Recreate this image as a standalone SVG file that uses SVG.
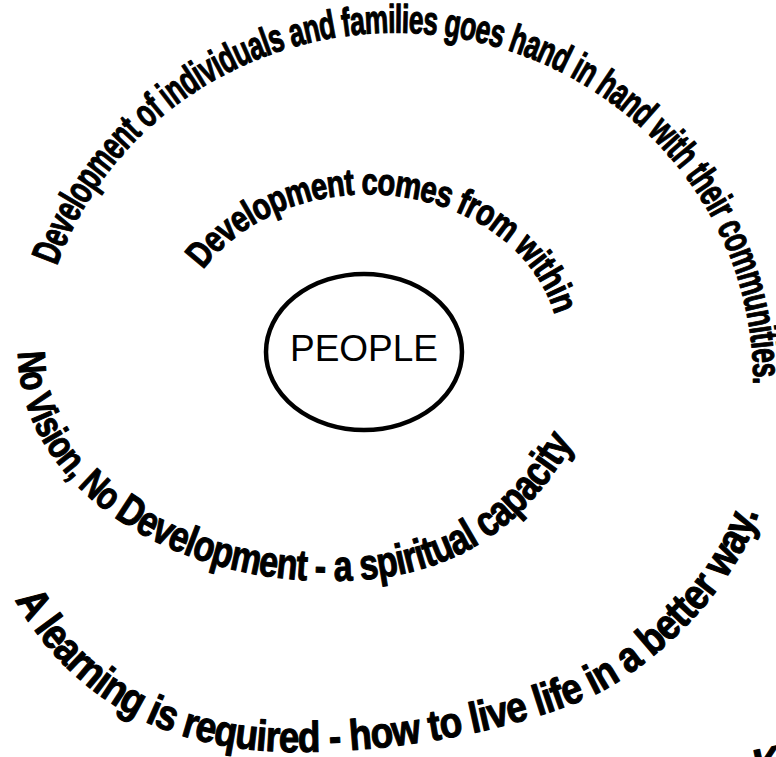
<svg xmlns="http://www.w3.org/2000/svg" width="776" height="757" viewBox="0 0 776 757">
<style>
.arc{font-family:"Liberation Sans",Arial,sans-serif;font-weight:bold;fill:#000;stroke:#000;stroke-width:1.1px;stroke-linejoin:round;letter-spacing:-1px}
.guide{fill:none;stroke:none}
</style>
<defs>
<path id="p1" class="guide" d="M 203,270 A 192 156 0 0 1 558,330"/>
<path id="p2" class="guide" d="M 57,266 A 358 347 0 0 1 753,392"/>
<path id="p3" class="guide" d="M 18,352 C 18,477.6 157.7,581 330,581 C 460,581 529,522 578,435"/>
<path id="p4" class="guide" d="M 15,600 C 65,687 150,752 300,752 C 390,752 507.6,733 590,697 C 645,673 743,588 762,500"/>
</defs>
<rect width="776" height="757" fill="#fff"/>
<g id="people">
<ellipse cx="364" cy="352" rx="98" ry="78" fill="#fff" stroke="#000" stroke-width="4.5"/>
<text x="364" y="361" text-anchor="middle" font-family="Liberation Sans, Arial, sans-serif" font-size="37" fill="#000">PEOPLE</text>
</g>
<g id="arc-texts">
<text id="t1" class="arc" font-size="37"><textPath href="#p1" textLength="425" lengthAdjust="spacingAndGlyphs">Development comes from within</textPath></text>
<text id="t2" class="arc" font-size="40"><textPath href="#p2" textLength="995" lengthAdjust="spacingAndGlyphs">Development of individuals and families goes hand in hand with their communities.</textPath></text>
<text id="t3" class="arc" font-size="43"><textPath href="#p3" textLength="722" lengthAdjust="spacingAndGlyphs"><tspan font-size="39">No Vision, No </tspan>Development - a spiritual capacity</textPath></text>
<text id="t4" class="arc" font-size="43"><textPath href="#p4" textLength="892" lengthAdjust="spacingAndGlyphs">A learning is required - how to live life in a better way.</textPath></text>
<text id="t5" class="arc" font-size="40" x="757" y="778" transform="rotate(-12 757 778)">K</text>
</g>
</svg>
